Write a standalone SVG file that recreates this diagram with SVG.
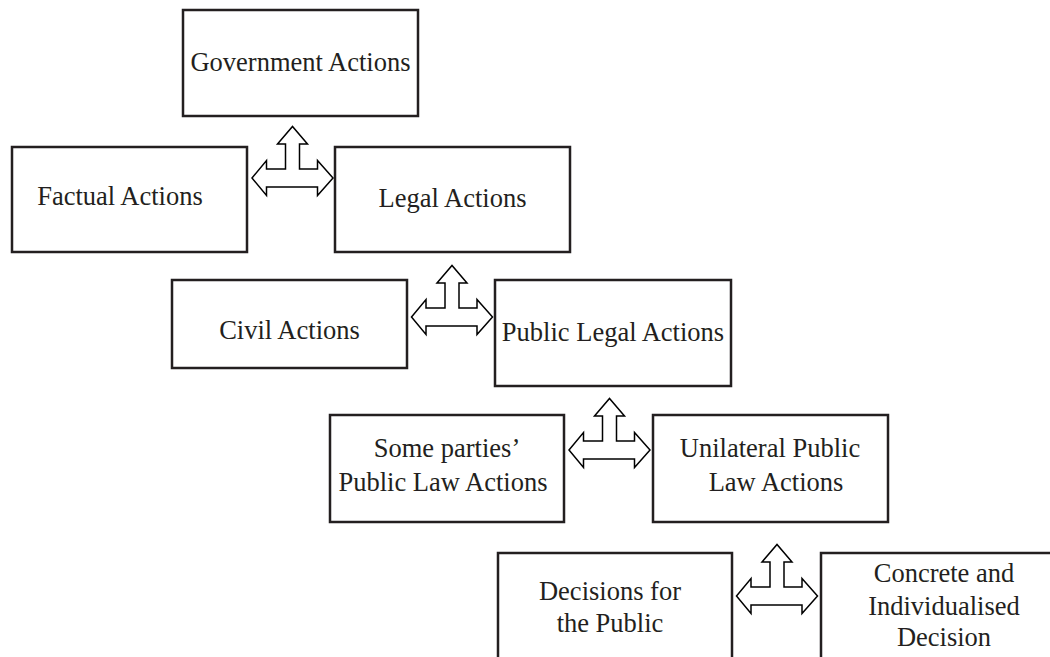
<svg xmlns="http://www.w3.org/2000/svg" width="1050" height="657" viewBox="0 0 1050 657">
<style>
.box{fill:#fff;stroke:#231f20;stroke-width:2.5}
.t{font-family:"Liberation Serif","Times New Roman",serif;font-size:26.5px;fill:#231f20;text-anchor:middle}
.arr{fill:#fff;stroke:#000;stroke-width:1.5;stroke-linejoin:miter}
</style>
<defs>
<path id="tarrow" class="arr" d="M-40.5,0 L-26,-17.5 L-26,-9 L-7,-9 L-7,-34 L-15,-34 L0,-51.5 L15,-34 L7,-34 L7,-9 L25,-9 L25,-17.5 L40.5,0 L25,17.5 L25,9 L-26,9 L-26,17.5 Z"/>
</defs>
<rect width="1050" height="657" fill="#fff"/>
<g id="n-government">
<rect class="box" x="183" y="10" width="235" height="106"/>
<text class="t" x="300.5" y="71">Government Actions</text>
</g>
<g id="n-factual">
<rect class="box" x="12" y="147" width="235" height="105"/>
<text class="t" x="120" y="205">Factual Actions</text>
</g>
<g id="n-legal">
<rect class="box" x="335" y="147" width="235" height="105"/>
<text class="t" x="452.5" y="207">Legal Actions</text>
</g>
<g id="n-civil">
<rect class="box" x="172" y="280" width="235" height="88"/>
<text class="t" x="289.5" y="339">Civil Actions</text>
</g>
<g id="n-public-legal">
<rect class="box" x="495" y="280" width="236" height="106"/>
<text class="t" x="613" y="341">Public Legal Actions</text>
</g>
<g id="n-some-parties">
<rect class="box" x="330" y="415" width="234" height="107"/>
<text class="t" x="447" y="457">Some parties’</text>
<text class="t" x="443" y="491">Public Law Actions</text>
</g>
<g id="n-unilateral">
<rect class="box" x="653" y="415" width="235" height="107"/>
<text class="t" x="770" y="457">Unilateral Public</text>
<text class="t" x="776" y="491">Law Actions</text>
</g>
<g id="n-decisions-public">
<rect class="box" x="498" y="553" width="234" height="120"/>
<text class="t" x="610" y="600">Decisions for</text>
<text class="t" x="610" y="632">the Public</text>
</g>
<g id="n-concrete">
<rect class="box" x="821" y="553" width="246" height="120"/>
<text class="t" x="944" y="582">Concrete and</text>
<text class="t" x="944" y="615">Individualised</text>
<text class="t" x="944" y="646">Decision</text>
</g>
<g id="connectors">
<use href="#tarrow" transform="translate(292.5,178)"/>
<use href="#tarrow" transform="translate(452,317)"/>
<use href="#tarrow" transform="translate(609.5,450)"/>
<use href="#tarrow" transform="translate(777,596)"/>
</g>
</svg>
